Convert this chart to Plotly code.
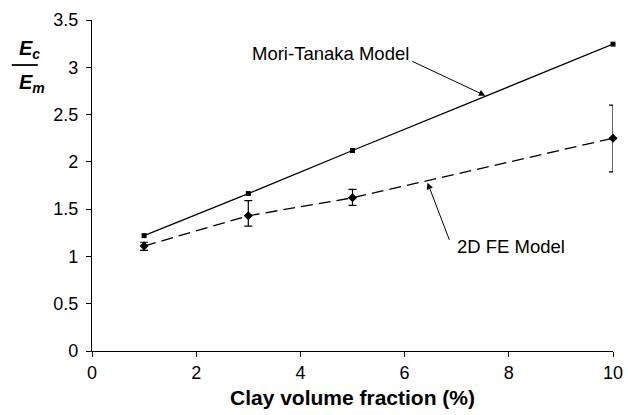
import plotly.graph_objects as go

clay_fraction = [1, 3, 5, 10]
mori_tanaka = [1.22, 1.665, 2.12, 3.245]
fe_2d = [1.11, 1.43, 1.62, 2.25]
fe_err_plus = [0.04, 0.16, 0.09, 0.35]
fe_err_minus = [0.045, 0.11, 0.08, 0.355]
x_ticks = [0, 2, 4, 6, 8, 10]
x_tick_labels = ["0", "2", "4", "6", "8", "10"]
y_ticks = [0, 0.5, 1, 1.5, 2, 2.5, 3, 3.5]
y_tick_labels = ["0", "0.5", "1", "1.5", "2", "2.5", "3", "3.5"]

FONT = "Liberation Sans, Arial, sans-serif"

fig = go.Figure()
fig.add_trace(go.Scatter(
    x=clay_fraction, y=mori_tanaka, mode="lines+markers",
    line=dict(color="black", width=1.3),
    marker=dict(symbol="square", size=5, color="black"),
    cliponaxis=False, showlegend=False))
fig.add_trace(go.Scatter(
    x=clay_fraction, y=fe_2d, mode="lines+markers",
    line=dict(color="black", width=1.3, dash="12px,6px"),
    marker=dict(symbol="diamond", size=7, color="black"),
    error_y=dict(type="data", array=fe_err_plus, arrayminus=fe_err_minus,
                 color="black", thickness=1.2, width=4),
    cliponaxis=False, showlegend=False))

fig.update_layout(
    width=628, height=415,
    margin=dict(l=92, r=15, t=20, b=64, autoexpand=False),
    plot_bgcolor="white", paper_bgcolor="white",
    font=dict(family=FONT, size=18, color="black"),
    xaxis=dict(range=[0, 10], tickvals=x_ticks, ticktext=x_tick_labels,
               showgrid=False, zeroline=False, automargin=False,
               showline=True, linecolor="black", linewidth=1.2,
               ticks="outside", ticklen=5, tickcolor="black",
               tickfont=dict(size=18),
               title=dict(text="<b>Clay volume fraction (%)</b>", font=dict(size=21), standoff=8)),
    yaxis=dict(range=[0, 3.5], tickvals=y_ticks, ticktext=y_tick_labels,
               showgrid=False, zeroline=False, automargin=False,
               showline=True, linecolor="black", linewidth=1.2,
               ticks="outside", ticklen=5, tickcolor="black",
               tickfont=dict(size=18), ticklabelstandoff=4),
)

annotations = [
    dict(x=7.55, y=2.70, ax=6.12, ay=3.07, xref="x", yref="y", axref="x", ayref="y",
         text="", showarrow=True, arrowhead=2, arrowsize=1.3, arrowwidth=1, arrowcolor="black"),
    dict(x=4.57, y=3.15, xref="x", yref="y", text="Mori-Tanaka Model", showarrow=False,
         font=dict(size=18.5)),
    dict(x=6.44, y=1.78, ax=6.87, ay=1.16, xref="x", yref="y", axref="x", ayref="y",
         text="", showarrow=True, arrowhead=2, arrowsize=1.3, arrowwidth=1, arrowcolor="black"),
    dict(x=8.04, y=1.10, xref="x", yref="y", text="2D FE Model", showarrow=False,
         font=dict(size=18.5)),
    dict(x=-0.143, y=0.868, xref="paper", yref="paper", yanchor="bottom",
         text="<b><i>E<sub>c</sub></i></b>", showarrow=False, font=dict(size=20)),
    dict(x=-0.143, y=0.852, xref="paper", yref="paper", yanchor="top",
         text="<b><i>E<sub>m</sub></i></b>", showarrow=False, font=dict(size=20)),
]
fig.update_layout(annotations=annotations)
fig.add_shape(type="line", xref="paper", yref="paper", x0=-0.154, x1=-0.104, y0=0.864, y1=0.864,
              line=dict(color="black", width=1.8))

fig.write_html("out.html", config={"displayModeBar": False},
               post_script="document.body.style.margin='0';document.body.style.padding='0';")
